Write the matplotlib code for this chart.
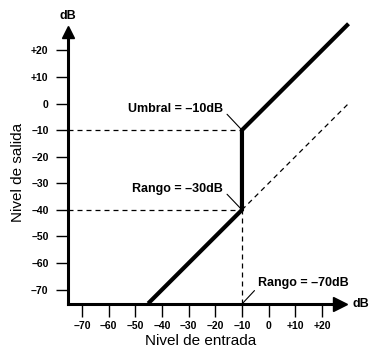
import matplotlib
matplotlib.use("Agg")
import matplotlib.pyplot as plt

plt.rcParams['font.family'] = ['Liberation Sans', 'DejaVu Sans']

# Input / output level (dB) transfer curve of a gate
entrada = [-45.2, -10, -10, 30]
salida = [-75.2, -40, -10, 30]

# Reference line (no gating) below the threshold
ref_entrada = [-10, 30]
ref_salida = [-40, 0]

umbral = -10
rango_salida = -40

x_ticks = [-70, -60, -50, -40, -30, -20, -10, 0, 10, 20]
x_labels = ['\u201370', '\u201360', '\u201350', '\u201340', '\u201330', '\u201320', '\u201310', '0', '+10', '+20']
y_ticks = [-70, -60, -50, -40, -30, -20, -10, 0, 10, 20]
y_labels = ['\u201370', '\u201360', '\u201350', '\u201340', '\u201330', '\u201320', '\u201310', '0', '+10', '+20']

W, H = 369, 351
fig = plt.figure(figsize=(W / 100, H / 100), dpi=100)
ax = fig.add_axes([68 / W, (H - 304) / H, (340 - 68) / W, (304 - 32) / H])

xmin, xmax = -75.3, 26.8
ymin, ymax = -75.4, 26.9
ax.set_xlim(xmin, xmax)
ax.set_ylim(ymin, ymax)

for s in ('top', 'right'):
    ax.spines[s].set_visible(False)
for s in ('left', 'bottom'):
    ax.spines[s].set_linewidth(2.2)
    ax.spines[s].set_capstyle('projecting')

ax.set_xticks(x_ticks)
ax.set_xticklabels(x_labels, fontsize=7.5, fontweight='bold')
ax.set_yticks(y_ticks)
ax.set_yticklabels(y_labels, fontsize=7.5, fontweight='bold')
ax.tick_params(axis='both', direction='out', length=9, width=1.0, color='black')
ax.tick_params(axis='x', pad=3)
ax.tick_params(axis='y', pad=5)

# Axis arrow heads
ax.plot([xmax], [ymin], marker='>', markersize=10, color='black', clip_on=False, zorder=5)
ax.plot([xmin], [ymax], marker='^', markersize=8, color='black', clip_on=False, zorder=5)

ax.text(xmin, 33.0, 'dB', fontsize=9, fontweight='bold', ha='center', va='center')
ax.text(34.6, ymin, 'dB', fontsize=9, fontweight='bold', ha='center', va='center')

# Guide lines
dash = dict(color='black', lw=0.9, linestyle=(0, (4, 3.2)))
ax.plot([xmin, umbral], [umbral, umbral], **dash)
ax.plot([xmin, umbral], [rango_salida, rango_salida], **dash)
ax.plot([umbral, umbral], [ymin, rango_salida], **dash)
ax.plot(ref_entrada, ref_salida, clip_on=False, **dash)

# Transfer curve
ax.plot(entrada, salida, color='black', lw=3.0, solid_capstyle='butt',
        solid_joinstyle='miter', clip_on=False, zorder=4)

lead = dict(arrowstyle='-', lw=0.8, color='black', shrinkA=1, shrinkB=1)
ax.annotate('Umbral = \u201310dB', xy=(umbral, umbral), xytext=(-17.0, -2.1),
            fontsize=9, fontweight='bold', ha='right', va='center',
            arrowprops=dict(relpos=(1.0, 0.4), **lead))
ax.annotate('Rango = \u201330dB', xy=(umbral, rango_salida), xytext=(-17.0, -32.2),
            fontsize=9, fontweight='bold', ha='right', va='center',
            arrowprops=dict(relpos=(1.0, 0.4), **lead))
ax.annotate('Rango = \u201370dB', xy=(umbral, ymin), xytext=(-3.9, -67.5),
            fontsize=9, fontweight='bold', ha='left', va='center',
            arrowprops=dict(relpos=(0.0, 0.2), **lead))

ax.set_xlabel('Nivel de entrada', fontsize=11)
ax.set_ylabel('Nivel de salida', fontsize=11)
ax.xaxis.set_label_coords((201 - 68) / 272, (304 - 341) / 272)
ax.xaxis.label.set_va('center')
ax.yaxis.set_label_coords((18 - 68) / 272, (304 - 172) / 272)
ax.yaxis.label.set_va('center')

fig.savefig('out.png', dpi=100)
